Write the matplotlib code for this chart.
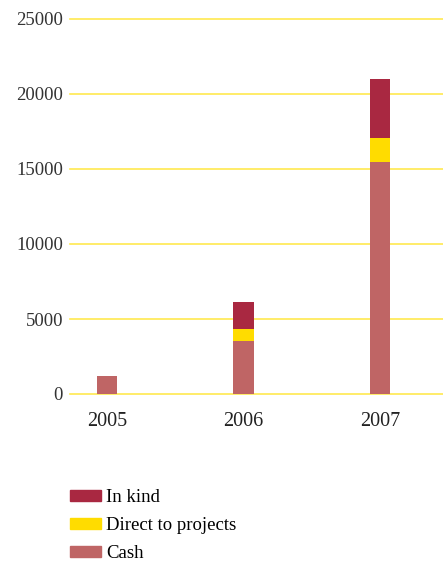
import matplotlib.pyplot as plt
from matplotlib.patches import Patch

years = ['2005', '2006', '2007']
cash = [1200, 3530, 15470]
direct = [0, 800, 1600]
in_kind = [0, 1800, 3930]
y_ticks = [0, 5000, 10000, 15000, 20000, 25000]

c_cash = '#BF6565'
c_direct = '#FFDC00'
c_kind = '#A92841'
c_grid = '#FFE94F'

plt.rcParams['font.family'] = ['Liberation Serif', 'DejaVu Serif']

fig = plt.figure(figsize=(4.43, 5.61), dpi=100)
# axes placed in pixel terms: left 70, right 443, y=0 at 394, 25000 at 19
ax = fig.add_axes([70 / 443, 1 - 394 / 561, 373 / 443, 375 / 561])

x = list(range(len(years)))
w = 0.147
ax.bar(x, cash, width=w, color=c_cash, zorder=3)
ax.bar(x, direct, width=w, bottom=cash, color=c_direct, zorder=3)
bottom2 = [a + b for a, b in zip(cash, direct)]
ax.bar(x, in_kind, width=w, bottom=bottom2, color=c_kind, zorder=3)

for t in y_ticks:
    ax.axhline(t, color=c_grid, lw=1.2, zorder=1, clip_on=False)

ax.set_xlim(-0.27, 2.46)
ax.set_ylim(0, 25000)
ax.set_yticks(y_ticks)
ax.set_yticklabels([str(t) for t in y_ticks], fontsize=13.5, color='#333333')
ax.set_xticks(x)
ax.set_xticklabels(years, fontsize=14.5, color='#222222')
ax.tick_params(axis='y', length=0, pad=5)
ax.tick_params(axis='x', length=0, pad=13)
for s in ax.spines.values():
    s.set_visible(False)

handles = [Patch(color=c_kind, label='In kind'),
           Patch(color=c_direct, label='Direct to projects'),
           Patch(color=c_cash, label='Cash')]
fig.legend(handles=handles, loc='upper left', bbox_to_anchor=(70 / 443, 1 - 489 / 561),
           frameon=False, fontsize=13.5, handlelength=1.65, handleheight=0.53,
           handletextpad=0.27, labelspacing=0.6, borderpad=0, borderaxespad=0)

fig.savefig('out.png', dpi=100)
